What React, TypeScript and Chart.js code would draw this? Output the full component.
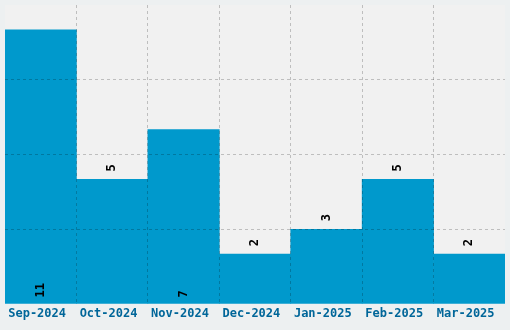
import React, { useEffect, useRef } from "react";
import { Chart, registerables } from "chart.js";

Chart.register(...registerables);

const categories = ["Sep-2024", "Oct-2024", "Nov-2024", "Dec-2024", "Jan-2025", "Feb-2025", "Mar-2025"];
const counts = [11, 5, 7, 2, 3, 5, 2];
const yMax = 12;
const yStep = 3;

const FONT = "'DejaVu Sans Mono', monospace";
const GRID = "rgba(0,0,0,0.21)";
const NONE = "rgba(0,0,0,0)";

const bgPlugin = {
  id: "bgPlugin",
  beforeDraw(chart: any) {
    const { ctx, chartArea, width, height } = chart;
    ctx.save();
    ctx.fillStyle = "#edf0f1";
    ctx.fillRect(0, 0, width, height);
    ctx.fillStyle = "#f1f1f1";
    ctx.fillRect(chartArea.left, chartArea.top, chartArea.right - chartArea.left, chartArea.bottom - chartArea.top);
    ctx.restore();
  },
};

const labelPlugin = {
  id: "labelPlugin",
  afterDraw(chart: any) {
    const { ctx } = chart;
    const meta = chart.getDatasetMeta(0);
    const data = chart.data.datasets[0].data as number[];
    ctx.save();
    ctx.fillStyle = "#000";
    ctx.font = `bold 12px ${FONT}`;
    ctx.textAlign = "left";
    ctx.textBaseline = "middle";
    meta.data.forEach((bar: any, i: number) => {
      const v = data[i];
      const inside = v >= 7;
      const y = inside ? bar.base - 6 : bar.y - 8;
      ctx.save();
      ctx.translate(bar.x, y);
      ctx.rotate(-Math.PI / 2);
      ctx.fillText(String(v), 0, 0);
      ctx.restore();
    });
    ctx.restore();
  },
};

export default function App() {
  const ref = useRef<HTMLCanvasElement>(null);
  useEffect(() => {
    const chart = new Chart(ref.current!, {
      type: "bar",
      data: {
        labels: categories,
        datasets: [
          {
            data: counts,
            backgroundColor: "#0099cc",
            borderWidth: 0,
            barPercentage: 1,
            categoryPercentage: 1,
          },
        ],
      },
      options: {
        animation: false,
        responsive: false,
        maintainAspectRatio: false,
        layout: { padding: { left: 5, right: 5, top: 5, bottom: 0 } },
        plugins: { legend: { display: false }, tooltip: { enabled: false } },
        scales: {
          x: {
            offset: true,
            border: { display: false, dash: [3, 3] },
            grid: {
              offset: true,
              z: 1,
              drawTicks: false,
              color: (c: any) => (c.type !== "tick" || c.index === 0 ? NONE : GRID),
            },
            ticks: {
              padding: 3,
              color: "#006699",
              font: { family: FONT, size: 12, weight: "bold" },
              maxRotation: 0,
              autoSkip: false,
              callback: (_v: any, i: number) => categories[i] + "\u00a0",
            },
            afterFit: (scale: any) => {
              scale.height = 26;
            },
          },
          y: {
            min: 0,
            max: yMax,
            border: { display: false, dash: [3, 3] },
            grid: {
              z: 1,
              drawTicks: false,
              color: (c: any) => (c.tick && (c.tick.value === 0 || c.tick.value === yMax) ? NONE : GRID),
            },
            ticks: { display: false, stepSize: yStep },
          },
        },
      },
      plugins: [bgPlugin, labelPlugin],
    });
    return () => chart.destroy();
  }, []);
  return (
    <div style={{ position: "fixed", left: 0, top: 0, width: 510, height: 330 }}>
      <canvas ref={ref} width={510} height={330} style={{ display: "block" }} />
    </div>
  );
}
